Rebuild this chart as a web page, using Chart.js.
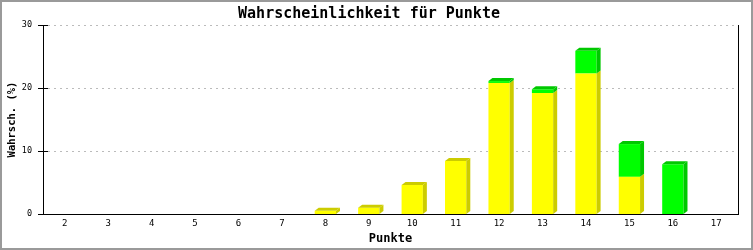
<!DOCTYPE html>
<html>
<head>
<meta charset="utf-8">
<script src="https://cdn.jsdelivr.net/npm/chart.js@4/dist/chart.umd.min.js"></script>
<style>html,body{margin:0;padding:0;background:#fff;}canvas{display:block;}</style>
</head>
<body>
<canvas id="c" width="753" height="250"></canvas>
<script>
const categories = ['2','3','4','5','6','7','8','9','10','11','12','13','14','15','16','17'];
const yellowValues = [0,0,0,0,0,0,0.5,1.0,4.6,8.4,20.8,19.2,22.3,5.9,0,0];
const greenValues  = [0,0,0,0,0,0,0,0,0,0,0.3,0.6,3.6,5.2,7.9,0];
const yTicks = [0,10,20,30];
const titleText = 'Wahrscheinlichkeit für Punkte';
const xTitle = 'Punkte';
const yTitle = 'Wahrsch. (%)';

const MONO = '"DejaVu Sans Mono", "Liberation Mono", monospace';
const DEPTH_X = 4, DEPTH_Y = 3;
const sideColors = ['#cccc00', '#00c800'];

const frame3d = {
  id: 'frame3d',
  beforeDraw(chart) {
    const ctx = chart.ctx;
    ctx.save();
    ctx.fillStyle = '#fff';
    ctx.fillRect(0, 0, chart.width, chart.height);
    ctx.restore();
  },
  beforeDatasetsDraw(chart) {
    // dotted horizontal grid lines
    const ctx = chart.ctx;
    const a = chart.chartArea;
    const ys = chart.scales.y;
    ctx.save();
    ctx.strokeStyle = '#bbbbbb';
    ctx.lineWidth = 1;
    ctx.setLineDash([2, 4]);
    ctx.beginPath();
    ys.ticks.forEach(t => {
      if (t.value === 0) return;
      const py = Math.round(ys.getPixelForValue(t.value)) + 0.5;
      ctx.moveTo(a.left + 5, py);
      ctx.lineTo(a.right - 3, py);
    });
    ctx.stroke();
    ctx.restore();
  },
  afterDatasetsDraw(chart) {
    const ctx = chart.ctx;
    const metas = chart.data.datasets.map((d, i) => chart.getDatasetMeta(i));
    const n = chart.data.labels.length;
    ctx.save();
    for (let j = 0; j < n; j++) {
      let top = -1;
      metas.forEach((m, i) => { if (chart.data.datasets[i].data[j] > 0) top = i; });
      metas.forEach((m, i) => {
        const v = chart.data.datasets[i].data[j];
        if (!(v > 0)) return;
        const el = m.data[j];
        const w = el.width;
        const l = el.x - w / 2, r = el.x + w / 2;
        const y = el.y, b = el.base;
        ctx.fillStyle = sideColors[i];
        ctx.beginPath();
        ctx.moveTo(r, y);
        ctx.lineTo(r + DEPTH_X, y - DEPTH_Y);
        ctx.lineTo(r + DEPTH_X, b - DEPTH_Y);
        ctx.lineTo(r, b);
        ctx.closePath();
        ctx.fill();
        if (i === top) {
          ctx.beginPath();
          ctx.moveTo(l, y);
          ctx.lineTo(l + DEPTH_X, y - DEPTH_Y);
          ctx.lineTo(r + DEPTH_X, y - DEPTH_Y);
          ctx.lineTo(r, y);
          ctx.closePath();
          ctx.fill();
        }
      });
    }
    ctx.restore();
  },
  afterDraw(chart) {
    const ctx = chart.ctx;
    const a = chart.chartArea;
    const ys = chart.scales.y;
    ctx.save();
    ctx.strokeStyle = '#000';
    ctx.lineWidth = 1;
    ctx.beginPath();
    ctx.moveTo(Math.round(a.right) + 0.5, a.top);
    ctx.lineTo(Math.round(a.right) + 0.5, a.bottom + 1);
    ys.ticks.forEach(t => {
      const py = Math.round(ys.getPixelForValue(t.value)) + 0.5;
      ctx.moveTo(a.left - 5, py);
      ctx.lineTo(a.left + 5, py);
    });
    ctx.stroke();
    ctx.strokeStyle = '#9a9a9a';
    ctx.lineWidth = 2;
    ctx.strokeRect(1, 1, chart.width - 2, chart.height - 2);
    ctx.restore();
  }
};

new Chart(document.getElementById('c'), {
  type: 'bar',
  data: {
    labels: categories,
    datasets: [
      { label: 'A', data: yellowValues, backgroundColor: '#ffff00', borderWidth: 0, stack: 's' },
      { label: 'B', data: greenValues, backgroundColor: '#00ff00', borderWidth: 0, stack: 's' }
    ]
  },
  options: {
    responsive: false,
    animation: false,
    devicePixelRatio: 1,
    layout: { padding: { left: 0, right: 15, top: 0, bottom: 0 } },
    categoryPercentage: 1,
    barPercentage: 0.49,
    plugins: {
      legend: { display: false },
      tooltip: { enabled: false },
      title: {
        display: true,
        text: titleText,
        color: '#000',
        font: { family: MONO, size: 15, weight: 'bold', lineHeight: 1.2 },
        padding: { top: 5, bottom: 2 }
      }
    },
    scales: {
      x: {
        stacked: true,
        offset: true,
        grid: { display: false, drawTicks: false },
        border: { display: true, color: '#000', width: 1 },
        ticks: { color: '#000', font: { family: MONO, size: 9 }, padding: 4, maxRotation: 0, autoSkip: false },
        title: { display: true, text: xTitle, color: '#000', font: { family: MONO, size: 12, weight: 'bold', lineHeight: 1.2 }, padding: { top: 0, bottom: 4 } },
        afterFit(s) { s.height = 36; }
      },
      y: {
        stacked: true,
        min: 0, max: 30,
        afterBuildTicks(s) { s.ticks = yTicks.map(v => ({ value: v })); },
        grid: { display: false, drawTicks: false },
        border: { display: true, color: '#000', width: 1 },
        ticks: { color: '#000', font: { family: MONO, size: 8.5 }, padding: 11 },
        title: { display: true, text: yTitle, color: '#000', font: { family: MONO, size: 10.5, weight: 'bold', lineHeight: 1.2 }, padding: { top: 6, bottom: 0 } },
        afterFit(s) { s.width = 43; }
      }
    }
  },
  plugins: [frame3d]
});
</script>
</body>
</html>
